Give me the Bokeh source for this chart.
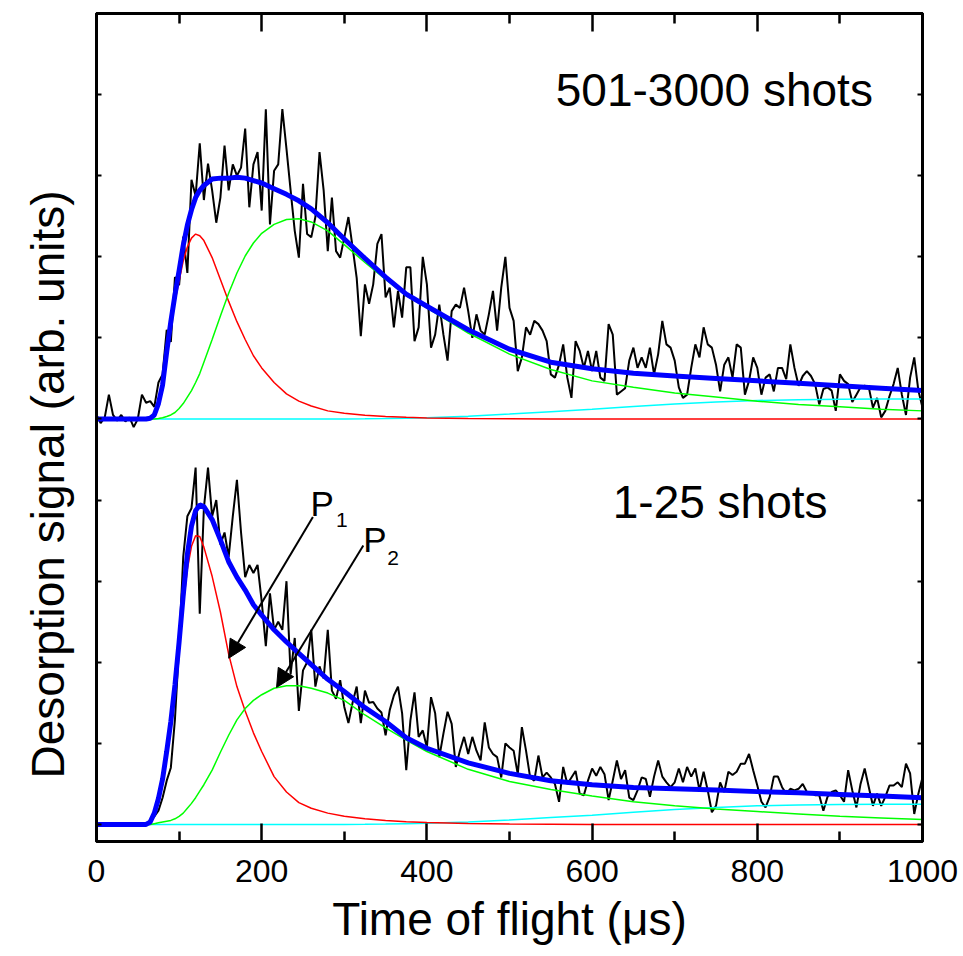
from bokeh.plotting import figure
from bokeh.models import Range1d, FixedTicker, LinearAxis, Label, Arrow, NormalHead, Title
from bokeh.embed import file_html
from bokeh.resources import INLINE

FONT = "Liberation Sans"

# ---------------- data ----------------
# measured traces, sampled every 5 us from 0 to 1000 us (signal above each trace's own baseline)
TIME = list(range(0, 1001, 5))

SIGNAL_501_3000 = [
    0.05, -0.05, 0.02, 0.30, 0.05, -0.02, 0.05, -0.03, 0.02, -0.10,
    0.00, 0.30, 0.20, 0.22, 0.15, 0.45, 0.55, 1.10, 0.95, 1.75,
    1.65, 2.25, 1.80, 2.95, 2.75, 3.40, 2.70, 3.15, 2.82, 2.42,
    2.73, 3.37, 2.82, 3.14, 3.00, 3.10, 3.58, 2.61, 3.14, 3.29,
    2.57, 3.82, 2.40, 3.06, 3.14, 3.82, 3.33, 2.82, 2.32, 1.99,
    2.90, 2.28, 2.24, 2.49, 3.29, 2.82, 2.07, 2.73, 2.07, 1.99,
    2.24, 2.49, 2.12, 1.74, 1.02, 1.66, 1.42, 1.66, 2.16, 2.28,
    1.50, 1.62, 1.13, 1.58, 1.25, 1.87, 1.87, 0.96, 1.13, 2.00,
    1.66, 0.88, 1.04, 1.41, 1.04, 0.72, 1.33, 1.41, 1.37, 1.62,
    1.33, 1.00, 1.29, 1.09, 1.04, 1.29, 1.58, 1.09, 1.62, 2.00,
    1.37, 1.21, 0.59, 0.76, 1.13, 1.04, 1.21, 1.17, 1.09, 0.96,
    0.55, 0.51, 0.67, 0.92, 0.51, 0.26, 0.96, 0.84, 0.63, 0.84,
    0.59, 0.84, 0.51, 0.47, 1.17, 1.04, 0.30, 0.34, 0.38, 0.72,
    0.88, 0.63, 0.76, 0.63, 0.88, 0.55, 0.80, 1.21, 0.92, 0.88,
    0.72, 0.39, 0.26, 0.30, 0.63, 0.92, 0.76, 1.13, 0.92, 0.88,
    0.67, 0.34, 0.67, 0.76, 0.51, 0.92, 0.88, 0.30, 0.47, 0.76,
    0.63, 0.30, 0.51, 0.55, 0.34, 0.63, 0.63, 0.49, 0.92, 0.63,
    0.41, 0.53, 0.59, 0.53, 0.43, 0.18, 0.37, 0.39, 0.35, 0.10,
    0.55, 0.47, 0.43, 0.21, 0.30, 0.39, 0.41, 0.39, 0.14, 0.26,
    0.02, 0.10, 0.28, 0.43, 0.63, 0.30, 0.05, 0.51, 0.76, 0.35,
    0.14,
]

SIGNAL_1_25 = [
    0.00, 0.00, 0.00, 0.00, 0.00, 0.00, 0.00, 0.00, 0.00, 0.00,
    0.00, 0.00, 0.00, 0.05, 0.10, 0.17, 0.33, 0.54, 0.70, 1.30,
    2.20, 3.30, 3.80, 3.90, 4.40, 2.60, 3.90, 4.40, 3.80, 4.00,
    3.45, 3.60, 3.30, 3.80, 4.25, 3.60, 3.05, 3.20, 3.10, 3.20,
    2.75, 2.20, 2.85, 2.40, 2.50, 2.40, 3.00, 1.85, 2.30, 1.40,
    1.90, 2.00, 2.40, 1.70, 1.95, 1.80, 2.40, 1.65, 1.55, 1.78,
    1.45, 1.25, 1.50, 1.70, 1.25, 1.65, 1.50, 1.51, 1.43, 1.38,
    1.10, 1.41, 1.59, 1.70, 1.37, 0.67, 1.28, 1.63, 1.08, 1.16,
    0.95, 1.57, 1.37, 0.83, 1.12, 1.39, 1.24, 0.71, 0.91, 1.08,
    0.87, 1.08, 0.91, 0.79, 1.26, 0.95, 0.87, 0.83, 0.58, 1.00,
    0.95, 0.91, 0.62, 1.20, 0.91, 0.58, 0.54, 0.85, 0.58, 0.64,
    0.58, 0.50, 0.28, 0.71, 0.50, 0.58, 0.66, 0.38, 0.36, 0.54,
    0.69, 0.60, 0.71, 0.62, 0.30, 0.54, 0.79, 0.56, 0.67, 0.33,
    0.30, 0.42, 0.58, 0.56, 0.34, 0.59, 0.79, 0.59, 0.52, 0.46,
    0.52, 0.69, 0.52, 0.71, 0.59, 0.69, 0.42, 0.65, 0.42, 0.15,
    0.23, 0.52, 0.40, 0.65, 0.61, 0.65, 0.75, 0.75, 0.87, 0.67,
    0.48, 0.28, 0.21, 0.34, 0.59, 0.59, 0.46, 0.38, 0.44, 0.42,
    0.44, 0.50, 0.40, 0.40, 0.36, 0.36, 0.17, 0.34, 0.40, 0.42,
    0.36, 0.28, 0.67, 0.42, 0.21, 0.50, 0.69, 0.46, 0.23, 0.38,
    0.23, 0.34, 0.48, 0.48, 0.52, 0.46, 0.75, 0.63, 0.13, 0.38,
    0.58,
]

# fitted components (read at these times)
FIT_T = [0, 50, 60, 65, 70, 75, 80, 85, 90, 95,
         100, 105, 110, 115, 120, 125, 130, 140, 150, 160,
         170, 180, 190, 200, 215, 230, 245, 260, 280, 300,
         325, 350, 375, 400, 450, 500, 550, 600, 650, 700,
         750, 800, 850, 900, 950, 1000]

UP_P1 = [0, 0, 0, 0.01, 0.05, 0.18, 0.40, 0.80, 1.15, 1.45,
         1.70, 1.95, 2.12, 2.23, 2.28, 2.26, 2.20, 1.99, 1.72, 1.45,
         1.20, 0.98, 0.78, 0.63, 0.45, 0.31, 0.22, 0.16, 0.10, 0.07,
         0.045, 0.03, 0.02, 0.013, 0.006, 0.003, 0, 0, 0, 0,
         0, 0, 0, 0, 0, 0]
UP_P2 = [0, 0, 0, 0, 0, 0.005, 0.015, 0.03, 0.05, 0.08,
         0.13, 0.19, 0.27, 0.35, 0.45, 0.56, 0.70, 0.98, 1.27, 1.55,
         1.80, 2.01, 2.17, 2.29, 2.40, 2.46, 2.47, 2.43, 2.32, 2.15,
         1.93, 1.72, 1.52, 1.37, 1.06, 0.80, 0.61, 0.47, 0.39, 0.32,
         0.27, 0.22, 0.18, 0.15, 0.12, 0.10]
UP_P3 = [0, 0, 0, 0, 0, 0, 0, 0, 0, 0,
         0, 0, 0, 0, 0, 0, 0, 0, 0, 0,
         0, 0, 0, 0, 0, 0, 0, 0, 0, 0,
         0.002, 0.005, 0.01, 0.015, 0.035, 0.06, 0.09, 0.12, 0.155, 0.185,
         0.21, 0.228, 0.238, 0.243, 0.245, 0.245]
UP_FIT = [0, 0, 0, 0.01, 0.05, 0.19, 0.42, 0.83, 1.20, 1.53,
          1.83, 2.14, 2.39, 2.58, 2.73, 2.82, 2.88, 2.96, 2.97, 2.97,
          2.98, 2.97, 2.94, 2.91, 2.84, 2.77, 2.69, 2.59, 2.42, 2.22,
          1.98, 1.75, 1.54, 1.39, 1.10, 0.86, 0.70, 0.62, 0.565, 0.53,
          0.50, 0.47, 0.44, 0.41, 0.38, 0.35]

LOW_P1 = [0, 0, 0, 0.02, 0.12, 0.30, 0.52, 0.85, 1.22, 1.65,
          2.15, 2.70, 3.15, 3.43, 3.56, 3.55, 3.42, 3.06, 2.62, 2.10,
          1.70, 1.40, 1.13, 0.90, 0.59, 0.40, 0.27, 0.20, 0.14, 0.10,
          0.07, 0.05, 0.035, 0.025, 0.012, 0.006, 0.003, 0, 0, 0,
          0, 0, 0, 0, 0, 0]
LOW_P2 = [0, 0, 0, 0, 0.01, 0.02, 0.03, 0.04, 0.05, 0.07,
          0.10, 0.14, 0.20, 0.26, 0.33, 0.41, 0.49, 0.67, 0.89, 1.10,
          1.29, 1.43, 1.53, 1.60, 1.68, 1.71, 1.71, 1.68, 1.62, 1.53,
          1.35, 1.19, 1.04, 0.90, 0.68, 0.53, 0.43, 0.35, 0.28, 0.23,
          0.19, 0.16, 0.13, 0.10, 0.08, 0.06]
LOW_P3 = [0, 0, 0, 0, 0, 0, 0, 0, 0, 0,
          0, 0, 0, 0, 0, 0, 0, 0, 0, 0,
          0, 0, 0, 0, 0, 0, 0, 0, 0, 0,
          0.002, 0.005, 0.01, 0.015, 0.03, 0.055, 0.085, 0.115, 0.15, 0.185,
          0.21, 0.23, 0.24, 0.247, 0.25, 0.25]
LOW_FIT = [0, 0, 0, 0.03, 0.14, 0.32, 0.56, 0.90, 1.27, 1.72,
           2.25, 2.83, 3.33, 3.68, 3.87, 3.94, 3.92, 3.76, 3.51, 3.24,
           3.05, 2.89, 2.71, 2.58, 2.40, 2.25, 2.11, 1.97, 1.79, 1.64,
           1.44, 1.27, 1.07, 0.94, 0.76, 0.63, 0.54, 0.49, 0.455, 0.44,
           0.425, 0.405, 0.39, 0.37, 0.35, 0.33]

X_TICKS = [0, 200, 400, 600, 800, 1000]
X_MINOR = [100, 300, 500, 700, 900]
Y_TICKS = [0, 1, 2, 3, 4, 5, 6, 7, 8, 9, 10]

UP_OFFSET = 5.0   # vertical stacking offset of the upper trace

# ---------------- figure ----------------
p = figure(width=963, height=956, output_backend="svg", toolbar_location=None,
           x_range=Range1d(0, 1000), y_range=Range1d(-0.21, 10.0),
           min_border_left=95, min_border_right=41, min_border_top=13, min_border_bottom=115,
           x_axis_label="Time of flight (μs)")
p.grid.visible = False
p.outline_line_color = "black"
p.outline_line_width = 3
p.background_fill_color = "white"
p.border_fill_color = "white"

up = [v + UP_OFFSET for v in SIGNAL_501_3000]
p.line(TIME, up, line_color="black", line_width=2)
p.line(TIME, SIGNAL_1_25, line_color="black", line_width=2)

for base, p1, p2, p3, fit in ((UP_OFFSET, UP_P1, UP_P2, UP_P3, UP_FIT),
                              (0.0, LOW_P1, LOW_P2, LOW_P3, LOW_FIT)):
    p.line(FIT_T, [v + base for v in p3], line_color="#00FFFF", line_width=1.5)
    p.line(FIT_T, [v + base for v in p1], line_color="#FF0000", line_width=1.5)
    p.line(FIT_T, [v + base for v in p2], line_color="#00FF00", line_width=1.5)
    p.line(FIT_T, [v + base for v in fit], line_color="#0000FF", line_width=5)

# bottom axis
xa = p.xaxis[0]
xa.ticker = FixedTicker(ticks=X_TICKS, minor_ticks=X_MINOR)
xa.major_tick_in = 18
xa.major_tick_out = 0
xa.minor_tick_in = 10
xa.minor_tick_out = 0
xa.major_tick_line_width = 2.5
xa.minor_tick_line_width = 2.5
xa.axis_line_width = 3
xa.major_label_text_font = FONT
xa.major_label_text_font_size = "32px"
xa.major_label_text_color = "black"
xa.major_label_standoff = 18
xa.axis_label_text_font = FONT
xa.axis_label_text_font_size = "46px"
xa.axis_label_text_font_style = "normal"
xa.axis_label_text_color = "black"
xa.axis_label_standoff = 8

# left axis: unlabeled ticks (drawn as minor ticks so no empty labels)
ya = p.yaxis[0]
ya.ticker = FixedTicker(ticks=[], minor_ticks=Y_TICKS)
ya.major_tick_in = 0
ya.major_tick_out = 0
ya.minor_tick_in = 5
ya.minor_tick_out = 0
ya.minor_tick_line_width = 2
ya.axis_line_width = 3
ya.major_label_standoff = 0

# right axis
right = LinearAxis(ticker=FixedTicker(ticks=[], minor_ticks=Y_TICKS),
                   major_tick_in=0, major_tick_out=0, minor_tick_in=5, minor_tick_out=0,
                   minor_tick_line_width=2, axis_line_width=3, major_label_standoff=0)
p.add_layout(right, "right")

# top axis: long ticks at the labelled positions, short ticks between
top_major = LinearAxis(ticker=FixedTicker(ticks=[], minor_ticks=X_TICKS),
                       major_tick_in=0, major_tick_out=0, minor_tick_in=18, minor_tick_out=0,
                       minor_tick_line_width=2.5, axis_line_width=3, major_label_standoff=0)
p.add_layout(top_major, "above")
top_minor = LinearAxis(ticker=FixedTicker(ticks=[], minor_ticks=X_MINOR),
                       major_tick_in=0, major_tick_out=0, minor_tick_in=10, minor_tick_out=0,
                       minor_tick_line_width=2.5, axis_line_width=3, major_label_standoff=0)
p.add_layout(top_minor, "above")

# y-axis title, starting a little above the frame bottom as in the original
ytitle = Title(text="Desorption signal (arb. units)", align="left", offset=63,
               vertical_align="top",
               text_font=FONT, text_font_size="46px", text_font_style="normal",
               text_color="black", standoff=42)
p.add_layout(ytitle, "left")

# annotations
def lab(x, y, text, size):
    p.add_layout(Label(x=x, y=y, text=text, text_font=FONT, text_font_size=size,
                       text_color="black", text_baseline="alphabetic", text_align="left"))

lab(556, 9.06, "501-3000 shots", "46px")
lab(625, 3.98, "1-25 shots", "46px")
lab(259, 3.96, "P", "35px")
lab(290, 3.76, "1", "21px")
lab(323, 3.51, "P", "35px")
lab(352, 3.28, "2", "21px")

for xs, ys, xe, ye in ((262, 3.79, 160, 2.05), (323, 3.44, 218, 1.69)):
    p.add_layout(Arrow(end=NormalHead(size=18, fill_color="black", line_color="black"),
                       x_start=xs, y_start=ys, x_end=xe, y_end=ye,
                       line_color="black", line_width=2))

open("out.html", "w").write(file_html(p, INLINE))
